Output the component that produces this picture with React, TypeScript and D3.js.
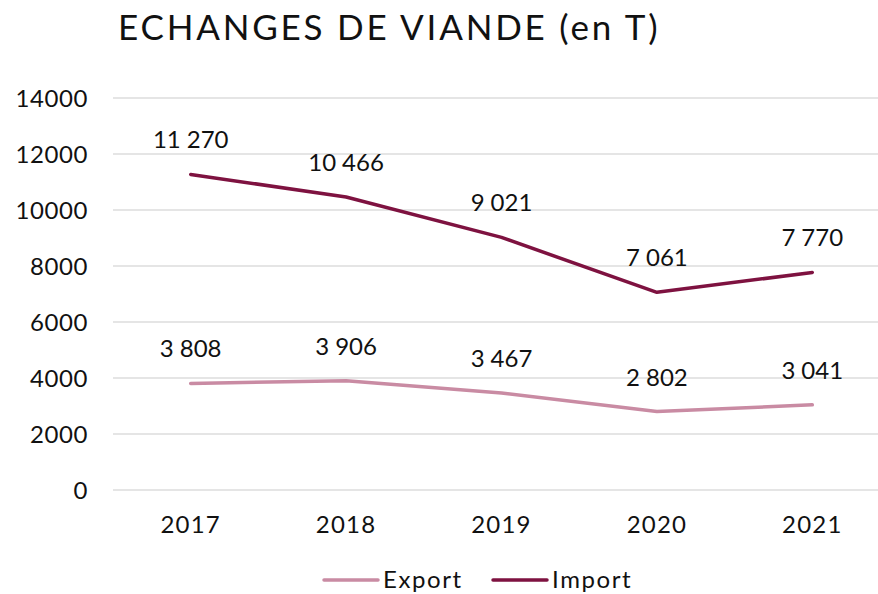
import { useEffect, useRef } from "react"
import * as d3 from "d3"

const years = ["2017", "2018", "2019", "2020", "2021"]
const exportValues = [3808, 3906, 3467, 2802, 3041]
const importValues = [11270, 10466, 9021, 7061, 7770]
const yTicks = [0, 2000, 4000, 6000, 8000, 10000, 12000, 14000]

const title = "ECHANGES DE VIANDE (en T)"
const exportColor = "#C98BA3"
const importColor = "#7E1240"
const font = "Lato, 'Open Sans', sans-serif"

interface Series {
  name: string
  color: string
  values: number[]
}

const series: Series[] = [
  { name: "Export", color: exportColor, values: exportValues },
  { name: "Import", color: importColor, values: importValues },
]

// french style thousands with a narrow space: "11 270"
const fmt = (v: number) => d3.format(",")(v).replace(/,/g, "\u202F")

const App = () => {
  const svgRef = useRef<SVGSVGElement | null>(null)

  useEffect(() => {
    if (!svgRef.current) return
    const svg = d3.select(svgRef.current)
    svg.selectAll("*").remove()

    const width = 878
    const height = 594

    const x = d3.scalePoint<string>().domain(years).range([113, 890]).padding(0.5)
    const y = d3.scaleLinear().domain([0, 14000]).range([490, 98])

    svg.append("rect").attr("width", width).attr("height", height).attr("fill", "#fff")

    // title
    svg
      .append("text")
      .attr("x", 118)
      .attr("y", 40)
      .attr("font-family", font)
      .attr("font-size", 35)
      .attr("letter-spacing", 2.8)
      .attr("fill", "#111")
      .text(title)

    // grid lines
    svg
      .append("g")
      .selectAll("line")
      .data(yTicks)
      .join("line")
      .attr("x1", 113)
      .attr("x2", 890)
      .attr("y1", (d) => y(d))
      .attr("y2", (d) => y(d))
      .attr("stroke", "#dcdcdc")
      .attr("stroke-width", 1.5)

    // y labels
    svg
      .append("g")
      .selectAll("text")
      .data(yTicks)
      .join("text")
      .attr("x", 88)
      .attr("y", (d) => y(d) + 9)
      .attr("text-anchor", "end")
      .attr("font-family", font)
      .attr("font-size", 24)
      .attr("letter-spacing", 0.6)
      .attr("fill", "#111")
      .text((d) => String(d))

    // x labels
    svg
      .append("g")
      .selectAll("text")
      .data(years)
      .join("text")
      .attr("x", (d) => x(d)!)
      .attr("y", 533)
      .attr("text-anchor", "middle")
      .attr("font-family", font)
      .attr("font-size", 24)
      .attr("letter-spacing", 1.2)
      .attr("fill", "#111")
      .text((d) => d)

    const line = d3
      .line<number>()
      .x((_, i) => x(years[i])!)
      .y((d) => y(d))

    series.forEach((s) => {
      svg
        .append("path")
        .datum(s.values)
        .attr("fill", "none")
        .attr("stroke", s.color)
        .attr("stroke-width", 3.5)
        .attr("stroke-linecap", "round")
        .attr("stroke-linejoin", "round")
        .attr("d", line)

      svg
        .append("g")
        .selectAll("text")
        .data(s.values)
        .join("text")
        .attr("x", (_, i) => x(years[i])!)
        .attr("y", (d) => y(d) - 26)
        .attr("text-anchor", "middle")
        .attr("font-family", font)
        .attr("font-size", 24)
        .attr("letter-spacing", 1.2)
        .attr("fill", "#111")
        .text((d) => fmt(d))
    })

    // legend
    const legendPos = [324, 493]
    series.forEach((s, i) => {
      const g = svg.append("g").attr("transform", `translate(${legendPos[i]},580)`)
      g.append("line")
        .attr("x1", 0)
        .attr("x2", 54)
        .attr("stroke", s.color)
        .attr("stroke-width", 3.5)
        .attr("stroke-linecap", "round")
      g.append("text")
        .attr("x", 59)
        .attr("y", 8)
        .attr("font-family", font)
        .attr("font-size", 24)
        .attr("letter-spacing", 1.6)
        .attr("fill", "#111")
        .text(s.name)
    })
  }, [])

  return (
    <svg
      ref={svgRef}
      width={878}
      height={594}
      style={{ position: "absolute", left: 0, top: 0, display: "block" }}
    />
  )
}

export default App
